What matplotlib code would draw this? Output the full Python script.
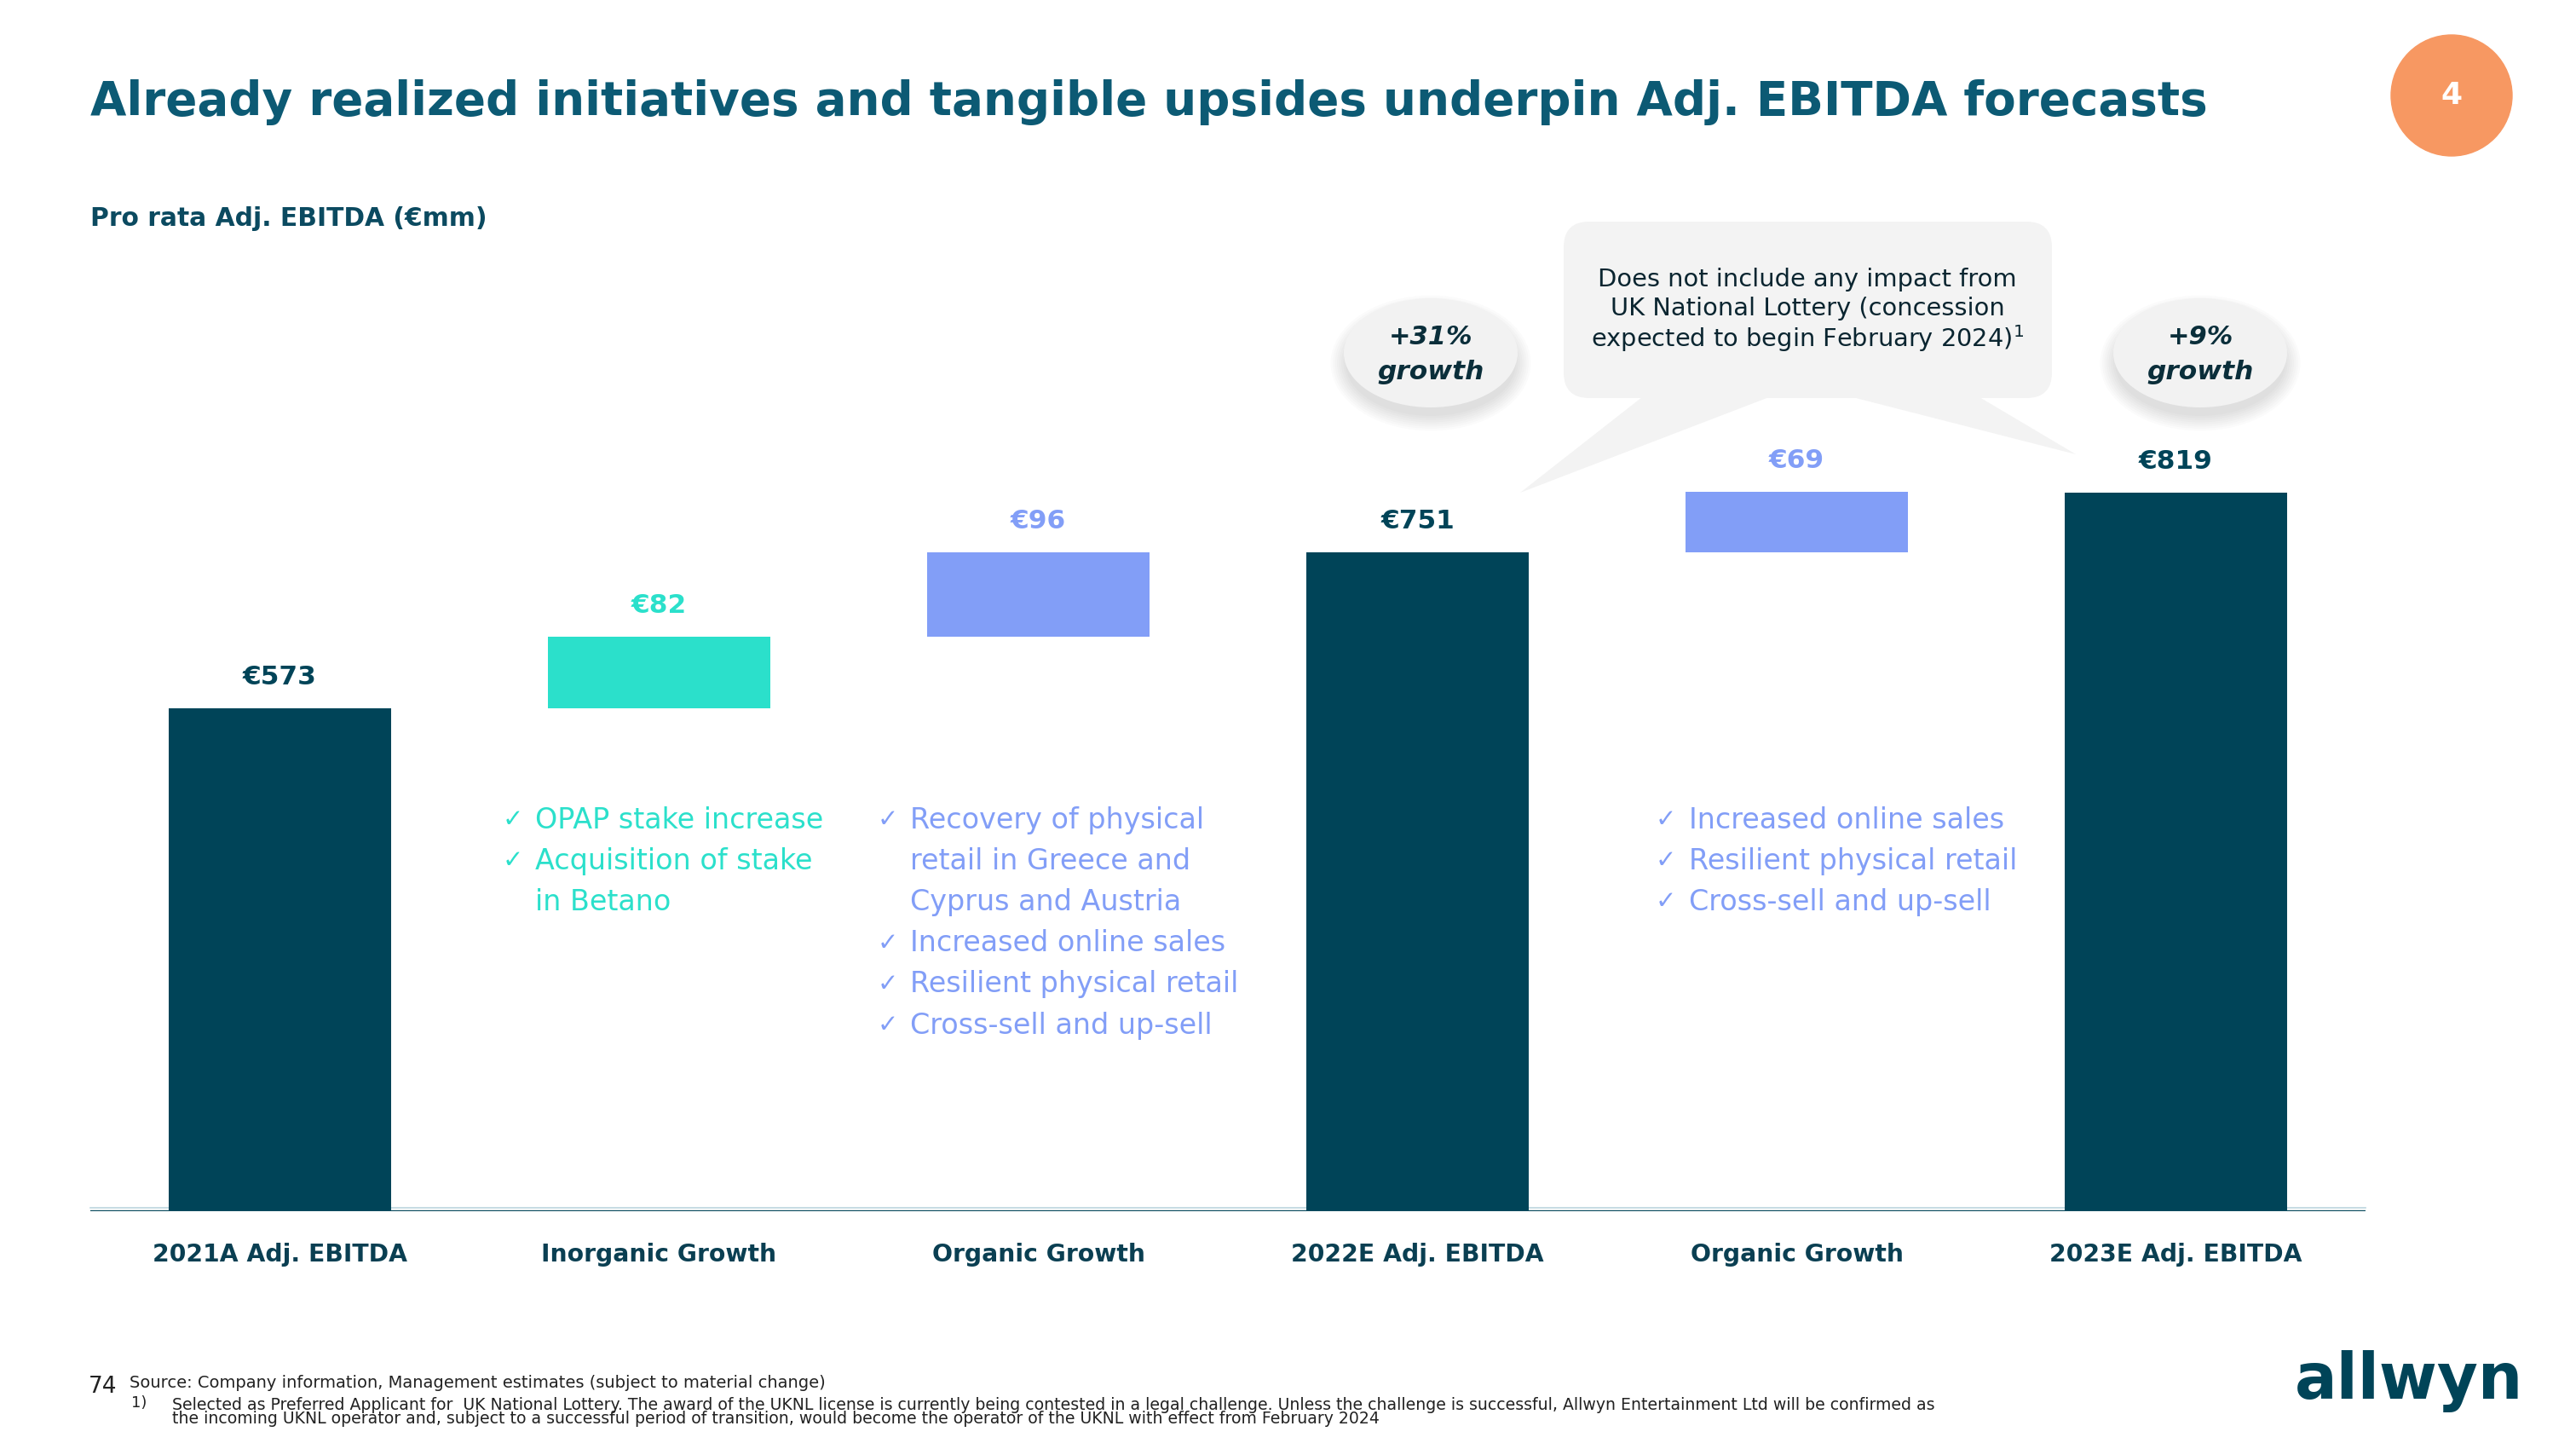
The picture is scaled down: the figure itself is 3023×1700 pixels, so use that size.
import numpy as np
import matplotlib.pyplot as plt
from matplotlib.patches import FancyBboxPatch, Ellipse, Polygon, Circle

W, H = 3023, 1700

# waterfall data (EUR mm)
categories = ['2021A Adj. EBITDA', 'Inorganic Growth', 'Organic Growth',
              '2022E Adj. EBITDA', 'Organic Growth', '2023E Adj. EBITDA']
values = [573, 82, 96, 751, 69, 819]
is_total = [True, False, False, True, False, True]
value_labels = ['€573', '€82', '€96', '€751', '€69', '€819']

inorganic_notes = ['OPAP stake increase', 'Acquisition of stake\nin Betano']
organic_notes_22 = ['Recovery of physical\nretail in Greece and\nCyprus and Austria',
                    'Increased online sales', 'Resilient physical retail',
                    'Cross-sell and up-sell']
organic_notes_23 = ['Increased online sales', 'Resilient physical retail',
                    'Cross-sell and up-sell']

growth_labels = ['+31%\ngrowth', '+9%\ngrowth']
callout_lines = ['Does not include any impact from',
                 'UK National Lottery (concession',
                 'expected to begin February 2024)$^{1}$']

title = 'Already realized initiatives and tangible upsides underpin Adj. EBITDA forecasts'
subtitle = 'Pro rata Adj. EBITDA (€mm)'
source = 'Source: Company information, Management estimates (subject to material change)'
note1 = ('Selected as Preferred Applicant for  UK National Lottery. The award of the UKNL license is currently '
         'being contested in a legal challenge. Unless the challenge is successful, Allwyn Entertainment Ltd will be confirmed as')
note2 = ('the incoming UKNL operator and, subject to a successful period of transition, would become the operator '
         'of the UKNL with effect from February 2024')

DARK = '#004458'
TITLE_C = '#0C5A74'
TEAL = '#2BE0CB'
BLUE = '#829EF7'
ORANGE = '#F79862'
GREY = '#F3F3F3'

plt.rcParams['font.family'] = ['DejaVu Sans']

fig = plt.figure(figsize=(W / 100, H / 100), dpi=100)
fig.patch.set_facecolor('white')

# overlay axes in pixel coords (y from top)
ov = fig.add_axes([0, 0, 1, 1], zorder=0)
ov.set_xlim(0, W)
ov.set_ylim(H, 0)
ov.axis('off')

# main chart axes
ax = fig.add_axes([106 / W, 279 / H, 2670 / W, 1029.6 / H], zorder=1)
ax.patch.set_alpha(0)

bottoms = []
run = 0
for v, t in zip(values, is_total):
    if t:
        bottoms.append(0)
        run = v
    else:
        bottoms.append(run)
        run += v

colors = [DARK, TEAL, BLUE, DARK, BLUE, DARK]
label_colors = [DARK, TEAL, BLUE, DARK, BLUE, DARK]
x = np.arange(len(values))
ax.bar(x, values, bottom=bottoms, width=0.585, color=colors, zorder=2)

for i in range(len(values)):
    top = bottoms[i] + values[i]
    ax.annotate(value_labels[i], (x[i], top), xytext=(0, 26), textcoords='offset points',
                ha='center', va='center', fontsize=22.5, fontweight='heavy', color=label_colors[i])
    ax.annotate(categories[i], (x[i], 0), xytext=(0, -37), textcoords='offset points',
                ha='center', va='center', fontsize=20.3, fontweight='bold', color='#0A3F52')

ax.axhline(0, color='#0A4A5E', lw=2.4, zorder=3)
ax.set_xlim(-0.5, 5.5)
ax.set_ylim(0, 1000)
ax.axis('off')
ov.plot([106, 2776], [1417, 1417], color='#BCD6DE', lw=1.2)

# title, subtitle
ov.text(106, 120, title, fontsize=39.4, fontweight='bold', color=TITLE_C, va='center', ha='left')
ov.text(106, 256, subtitle, fontsize=21.4, fontweight='bold', color='#0B4A60', va='center', ha='left')

# page badge
ov.add_patch(Circle((2877, 112), 71, color=ORANGE, zorder=2))
ov.text(2877, 112, '4', fontsize=26, fontweight='bold', color='white', ha='center', va='center', zorder=3)


# bullet lists
def bullets(items, xc, xt, y0, color):
    y = y0
    for item in items:
        ov.text(xc, y, '✓', fontsize=21, color=color, ha='left', va='center')
        for line in item.split('\n'):
            ov.text(xt, y, line, fontsize=24, color=color, ha='left', va='center')
            y += 48.2


bullets(inorganic_notes, 590, 628, 962, TEAL)
bullets(organic_notes_22, 1030, 1068, 962, BLUE)
bullets(organic_notes_23, 1943, 1982, 962, BLUE)

# growth bubbles
for cx, lbl in zip([1679, 2582], growth_labels):
    for k in range(8):
        ov.add_patch(Ellipse((cx, 426), 200 + k * 5, 124 + k * 5, color='black', alpha=0.016, lw=0, zorder=1))
    ov.add_patch(Ellipse((cx, 414), 204, 128, color='#F2F2F2', lw=0, zorder=2))
    top, bot = lbl.split('\n')
    ov.text(cx, 395, top, fontsize=22, fontweight='bold', fontstyle='italic', color='#0A2E3A',
            ha='center', va='center', zorder=3)
    ov.text(cx, 436, bot, fontsize=22.5, fontweight='bold', fontstyle='italic', color='#0A2E3A',
            ha='center', va='center', zorder=3)

# callout box with two tails
ov.add_patch(FancyBboxPatch((1835 + 30, 260 + 30), 573 - 60, 207 - 60,
                            boxstyle='round,pad=30', color=GREY, lw=0, zorder=1))
ov.add_patch(Polygon([(1927, 466), (2076, 466), (1784, 578)], closed=True, color=GREY, lw=0, zorder=1))
ov.add_patch(Polygon([(2174, 466), (2323, 466), (2436, 533)], closed=True, color=GREY, lw=0, zorder=1))
for yy, line in zip([328, 362, 397], callout_lines):
    ov.text(2121, yy, line, fontsize=20.8, color='#0A2530', ha='center', va='center', zorder=2)

# footer
ov.text(104, 1627, '74', fontsize=19, color='#222222', ha='left', va='center')
ov.text(152, 1623, source, fontsize=14, color='#222222', ha='left', va='center')
ov.text(154, 1646, '1)', fontsize=13, color='#222222', ha='left', va='center')
ov.text(202, 1648, note1, fontsize=13.6, color='#222222', ha='left', va='center')
ov.text(202, 1664, note2, fontsize=13.6, color='#222222', ha='left', va='center')

# logo
ov.text(2693, 1641, 'allwyn', fontsize=53, fontweight='heavy', color=DARK, ha='left', va='baseline')

fig.savefig('out.png', dpi=100, facecolor='white')
